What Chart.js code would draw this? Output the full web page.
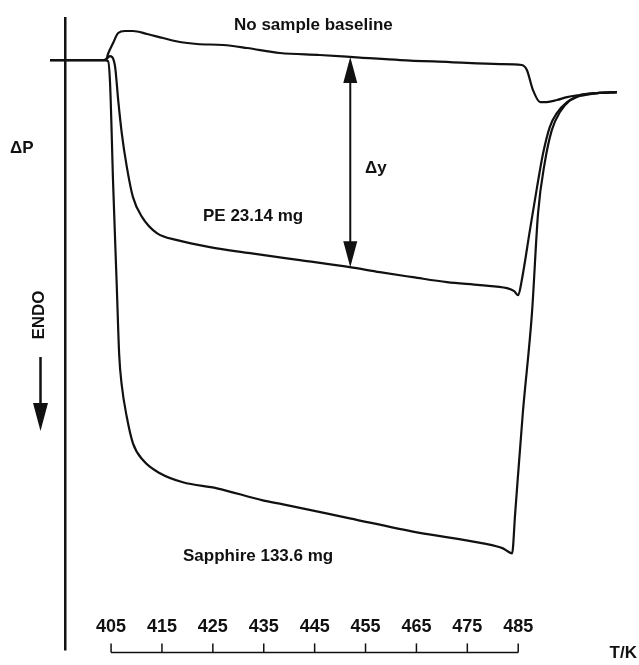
<!DOCTYPE html>
<html>
<head>
<meta charset="utf-8">
<script src="https://cdn.jsdelivr.net/npm/chart.js@4.4.1/dist/chart.umd.min.js"></script>
<style>
  html, body { margin: 0; padding: 0; background: #fff; }
  #wrap { width: 639px; height: 665px; }
</style>
</head>
<body>
<div id="wrap"><canvas id="c" width="639" height="665"></canvas></div>
<script>
// Temperature axis ticks (K)
const tickLabels = [405, 415, 425, 435, 445, 455, 465, 475, 485];

// No sample baseline (ΔP, arbitrary units)
const baselineT = [393.0, 403.6, 404.0, 404.4, 405.4, 406.4, 407.7, 409.3, 412.1, 415.2, 418.5, 421.9, 427.0, 431.7, 438.2, 446.0, 453.9, 461.8, 471.6, 481.4, 485.7, 486.7, 487.9, 489.3, 490.6, 492.6, 494.6, 497.1, 500.5, 504.4];
const baselineV = [0, 0, 0, 0.6, 1.7, 2.7, 2.9, 2.9, 2.6, 2.2, 1.8, 1.6, 1.5, 1.2, 0.7, 0.5, 0.25, 0, -0.2, -0.4, -0.5, -1.0, -3.0, -4.2, -4.2, -4.0, -3.7, -3.5, -3.3, -3.2];

// PE 23.14 mg
const peT = [393.0, 403.6, 404.3, 404.7, 405.2, 405.8, 406.4, 407.1, 408.1, 409.3, 411.1, 414.0, 418.0, 424.4, 432.3, 442.1, 451.9, 457.8, 464.3, 471.0, 477.5, 482.8, 484.2, 485.0, 485.7, 487.3, 488.7, 489.9, 491.2, 492.6, 494.6, 496.5, 497.1, 500.5, 504.4];
const peV = [0, 0, 0.2, 0.4, 0.3, -0.7, -4.0, -7.3, -10.7, -13.7, -15.7, -17.3, -18.0, -18.7, -19.3, -20.0, -20.7, -21.2, -21.7, -22.2, -22.5, -22.8, -23.1, -23.5, -22.0, -17.0, -12.7, -9.3, -6.7, -5.3, -4.2, -3.7, -3.5, -3.3, -3.2];

// Sapphire 133.6 mg
const sapphireT = [393.0, 403.6, 404.4, 404.8, 405.4, 406.1, 406.6, 407.1, 408.1, 409.3, 411.3, 414.6, 419.1, 425.8, 434.8, 438.8, 451.9, 465.1, 478.1, 482.0, 483.8, 484.4, 485.9, 487.7, 488.9, 490.2, 491.6, 493.2, 495.2, 497.1, 500.5, 504.4];
const sapphireV = [0, 0, -0.1, -2.3, -12.3, -22.3, -29.5, -32.5, -35.7, -38.3, -40.0, -41.3, -42.2, -42.8, -44.0, -44.4, -45.8, -47.2, -48.3, -48.8, -49.3, -45.3, -35.3, -25.3, -15.3, -10.3, -7.0, -5.2, -4.0, -3.6, -3.3, -3.2];

// Annotation anchors
const deltaYTemp = 452;   // K, where the Δy arrow is drawn
const yAxisTemp = 396;    // K, where the ΔP axis line stands

const INK = '#111';
const FAMILY = '"Liberation Sans", Arial, Helvetica, sans-serif';
const FONT = 'bold 17px ' + FAMILY;

function toPts(ts, vs) { return ts.map((t, i) => ({ x: t, y: vs[i] })); }
function interp(ts, vs, t) {
  for (let i = 0; i < ts.length - 1; i++) {
    if (t >= ts[i] && t <= ts[i + 1]) {
      const f = (t - ts[i]) / (ts[i + 1] - ts[i]);
      return vs[i] + f * (vs[i + 1] - vs[i]);
    }
  }
  return vs[vs.length - 1];
}

const lineStyle = {
  borderColor: INK, borderWidth: 2.2, pointRadius: 0, fill: false,
  cubicInterpolationMode: 'monotone'
};

const annot = {
  id: 'annot',
  afterDraw(chart) {
    const ctx = chart.ctx;
    const xs = chart.scales.x, ys = chart.scales.y;
    const ca = chart.chartArea;
    ctx.save();
    ctx.strokeStyle = INK; ctx.fillStyle = INK;

    // vertical ΔP axis
    const ax = xs.getPixelForValue(yAxisTemp);
    ctx.lineWidth = 2.5;
    ctx.beginPath(); ctx.moveTo(ax, ca.top); ctx.lineTo(ax, ca.bottom + 38); ctx.stroke();

    // temperature bracket
    const by = ca.bottom + 40;
    ctx.lineWidth = 1.5;
    ctx.beginPath();
    ctx.moveTo(xs.getPixelForValue(tickLabels[0]), by);
    ctx.lineTo(xs.getPixelForValue(tickLabels[tickLabels.length - 1]), by);
    ctx.stroke();
    tickLabels.forEach(v => {
      const px = xs.getPixelForValue(v);
      ctx.beginPath(); ctx.moveTo(px, by); ctx.lineTo(px, by - 9); ctx.stroke();
    });

    // Δy double arrow
    const dx = xs.getPixelForValue(deltaYTemp);
    const yTop = ys.getPixelForValue(interp(baselineT, baselineV, deltaYTemp));
    const yBot = ys.getPixelForValue(interp(peT, peV, deltaYTemp));
    ctx.lineWidth = 2;
    ctx.beginPath(); ctx.moveTo(dx, yTop + 10); ctx.lineTo(dx, yBot - 10); ctx.stroke();
    ctx.beginPath(); ctx.moveTo(dx, yTop); ctx.lineTo(dx - 7, yTop + 26); ctx.lineTo(dx + 7, yTop + 26); ctx.closePath(); ctx.fill();
    ctx.beginPath(); ctx.moveTo(dx, yBot); ctx.lineTo(dx - 7, yBot - 26); ctx.lineTo(dx + 7, yBot - 26); ctx.closePath(); ctx.fill();

    // ENDO arrow
    ctx.lineWidth = 2.5;
    ctx.beginPath(); ctx.moveTo(40.5, 357); ctx.lineTo(40.5, 408); ctx.stroke();
    ctx.beginPath(); ctx.moveTo(33, 403); ctx.lineTo(48, 403); ctx.lineTo(40.5, 431); ctx.closePath(); ctx.fill();

    // texts
    ctx.font = FONT;
    ctx.textBaseline = 'middle';
    ctx.textAlign = 'left';
    ctx.fillText('No sample baseline', 234, 25);
    ctx.fillText('PE 23.14 mg', 203, 216);
    ctx.fillText('Sapphire 133.6 mg', 183, 556);
    ctx.fillText('\u0394y', 365, 168);
    ctx.fillText('\u0394P', 10, 148);
    ctx.textAlign = 'right';
    ctx.fillText('T/K', 637, 653);
    ctx.save();
    ctx.translate(39, 315);
    ctx.rotate(-Math.PI / 2);
    ctx.textAlign = 'center';
    ctx.fillText('ENDO', 0, 0);
    ctx.restore();
    ctx.restore();
  }
};

new Chart(document.getElementById('c'), {
  type: 'line',
  data: {
    datasets: [
      Object.assign({ label: 'No sample baseline', data: toPts(baselineT, baselineV) }, lineStyle),
      Object.assign({ label: 'PE 23.14 mg', data: toPts(peT, peV) }, lineStyle),
      Object.assign({ label: 'Sapphire 133.6 mg', data: toPts(sapphireT, sapphireV) }, lineStyle)
    ]
  },
  options: {
    responsive: false,
    animation: false,
    devicePixelRatio: 1,
    layout: { padding: { left: 50, right: 19, top: 17, bottom: 23 } },
    plugins: { legend: { display: false }, tooltip: { enabled: false } },
    scales: {
      x: {
        type: 'linear', min: 393, max: 505,
        afterBuildTicks: s => { s.ticks = tickLabels.map(v => ({ value: v })); },
        grid: { display: false, drawTicks: false, tickLength: 0 },
        border: { display: false },
        ticks: { color: INK, font: { family: FAMILY, size: 18, weight: 'bold' }, padding: 4, maxRotation: 0, autoSkip: false, callback: v => String(v) }
      },
      y: {
        type: 'linear', min: -55.2, max: 4.3, display: false
      }
    }
  },
  plugins: [annot]
});
</script>
</body>
</html>
